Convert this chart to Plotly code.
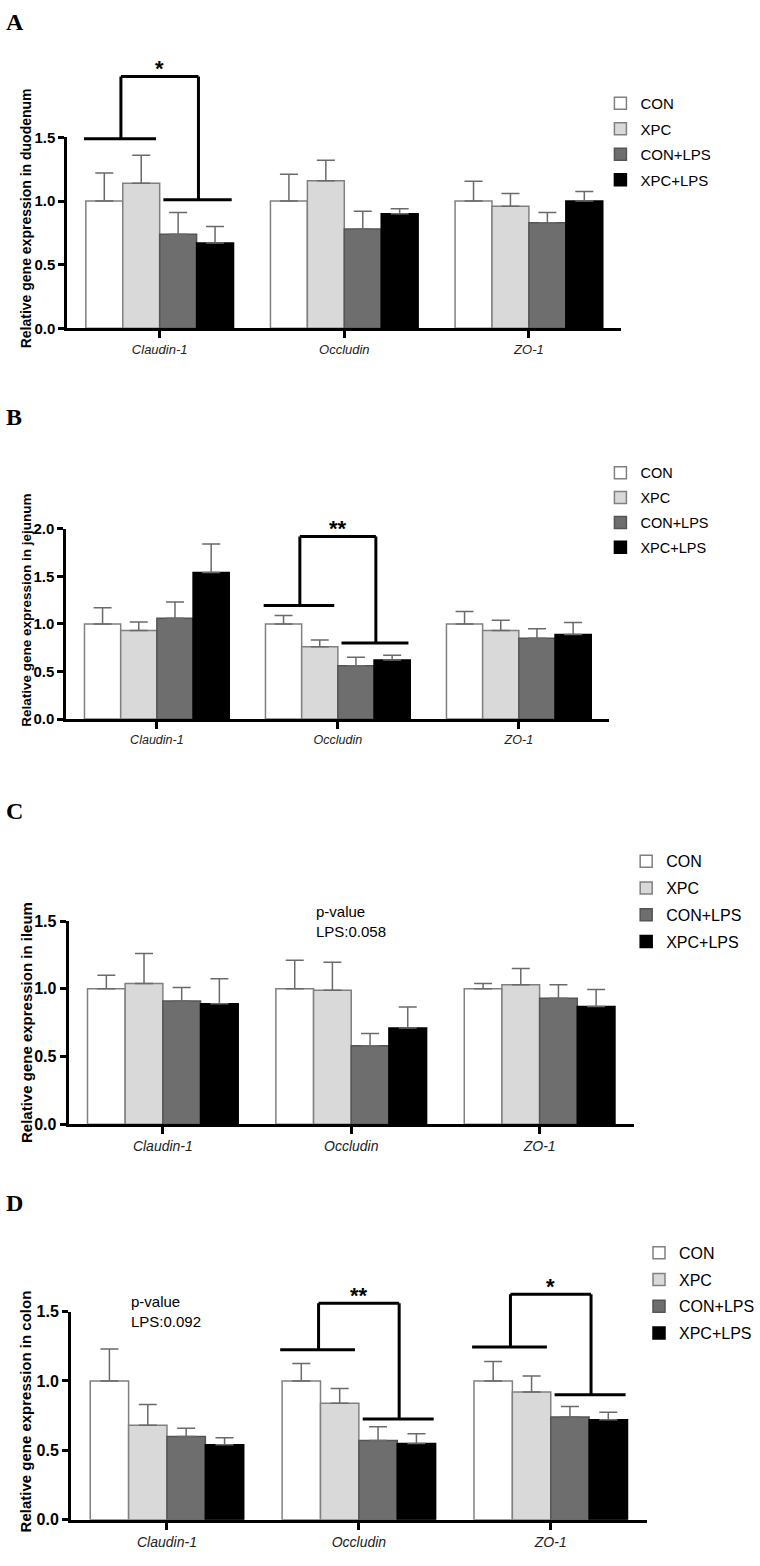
import plotly.graph_objects as go

W, H = 760, 1566

genes = ["Claudin-1", "Occludin", "ZO-1"]
groups = ["CON", "XPC", "CON+LPS", "XPC+LPS"]

# relative expression, rows = groups (CON, XPC, CON+LPS, XPC+LPS), cols = genes
duodenum_mean = [
    [1.00, 1.00, 1.00],
    [1.14, 1.16, 0.96],
    [0.74, 0.78, 0.83],
    [0.67, 0.90, 1.00],
]
duodenum_sem = [
    [0.22, 0.21, 0.155],
    [0.22, 0.16, 0.10],
    [0.17, 0.14, 0.08],
    [0.13, 0.04, 0.075],
]
jejunum_mean = [
    [1.00, 1.00, 1.00],
    [0.93, 0.76, 0.93],
    [1.06, 0.56, 0.85],
    [1.54, 0.62, 0.89],
]
jejunum_sem = [
    [0.17, 0.09, 0.13],
    [0.09, 0.07, 0.11],
    [0.17, 0.09, 0.10],
    [0.30, 0.05, 0.125],
]
ileum_mean = [
    [1.00, 1.00, 1.00],
    [1.04, 0.99, 1.03],
    [0.91, 0.58, 0.93],
    [0.89, 0.71, 0.87],
]
ileum_sem = [
    [0.10, 0.21, 0.04],
    [0.22, 0.205, 0.12],
    [0.10, 0.09, 0.10],
    [0.185, 0.155, 0.125],
]
colon_mean = [
    [1.00, 1.00, 1.00],
    [0.68, 0.84, 0.92],
    [0.60, 0.57, 0.74],
    [0.54, 0.55, 0.72],
]
colon_sem = [
    [0.23, 0.125, 0.14],
    [0.15, 0.105, 0.115],
    [0.06, 0.10, 0.075],
    [0.05, 0.07, 0.055],
]

# significance brackets: (gene index, left bar level, right bar level, top level, label)
duodenum_sig = [(0, 1.49, 1.01, 1.98, "*")]
jejunum_sig = [(1, 1.195, 0.80, 1.92, "**")]
ileum_sig = []
colon_sig = [(1, 1.225, 0.725, 1.56, "**"), (2, 1.245, 0.90, 1.625, "*")]

ileum_note = (1, "p-value<br>LPS:0.058")
colon_note = (0, "p-value<br>LPS:0.092")

fills = ["#ffffff", "#d9d9d9", "#6e6e6e", "#000000"]
edges = ["#808080", "#808080", "#555555", "#000000"]

SANS = "Arial, Liberation Sans, sans-serif"
SERIF = "Times New Roman, Liberation Serif, serif"

# pixel geometry of each panel (left, right, baseline y, px per unit, ...)
panels = [
    dict(letter="A", tissue="duodenum", mean=duodenum_mean, sem=duodenum_sem, sig=duodenum_sig, note=None,
         left=68, right=627, y0=323, ppu=128.7, ymax=2.25, top=1.5, ticks=[0, 0.5, 1.0, 1.5],
         letter_y=13, title_y=212, fs=14, tfs=15, leg_x=606, leg_y=79, gap=3),
    dict(letter="B", tissue="jejunum", mean=jejunum_mean, sem=jejunum_sem, sig=jejunum_sig, note=None,
         left=67, right=615, y0=718.3, ppu=96.2, ymax=2.3, top=2.0, ticks=[0, 0.5, 1.0, 1.5, 2.0],
         letter_y=413, title_y=608, fs=13.5, tfs=15, leg_x=606, leg_y=453, gap=3),
    dict(letter="C", tissue="ileum", mean=ileum_mean, sem=ileum_sem, sig=ileum_sig, note=ileum_note,
         left=69.3, right=639.7, y0=1128.3, ppu=137.1, ymax=1.8, top=1.5, ticks=[0, 0.5, 1.0, 1.5],
         letter_y=811, title_y=1025, fs=15, tfs=16, leg_x=632, leg_y=845, gap=3),
    dict(letter="D", tissue="colon", mean=colon_mean, sem=colon_sem, sig=colon_sig, note=colon_note,
         left=71.7, right=652.7, y0=1528.3, ppu=140.4, ymax=1.8, top=1.5, ticks=[0, 0.5, 1.0, 1.5],
         letter_y=1208, title_y=1419, fs=15, tfs=16, leg_x=645, leg_y=1241, gap=3),
]


def fx(px):
    return px / W


def fy(py):
    return 1 - py / H


fig = go.Figure()
shapes = []
annotations = []
layout = {}

for i, p in enumerate(panels):
    n = "" if i == 0 else str(i + 1)
    m = str(i + 5)  # invisible taller axis for brackets and notes
    xa, ya, yo, leg = "x" + n, "y" + n, "y" + m, "legend" + n
    fs = p["fs"]

    for g, name in enumerate(groups):
        fig.add_trace(go.Bar(
            x=genes, y=p["mean"][g], name=name,
            xaxis=xa, yaxis=ya, legend=leg, legendgroup=f"{i}-{name}",
            marker=dict(color=fills[g], line=dict(color=edges[g], width=1.5)),
            error_y=dict(type="data", symmetric=False, array=p["sem"][g], arrayminus=[0] * len(genes),
                         color="#6a6a6a", thickness=1.5, width=9),
        ))

    layout["xaxis" + n] = dict(
        domain=[fx(p["left"]), fx(p["right"])], anchor=ya, type="category",
        categoryorder="array", categoryarray=genes, range=[-0.5, 2.5],
        showline=True, linewidth=3, linecolor="black", showgrid=False, zeroline=False,
        ticks="outside", ticklen=7, tickwidth=3, tickcolor="black",
        tickfont=dict(family=SANS, size=fs - 1, color="#222", style="italic"),
    )
    layout["yaxis" + n] = dict(
        domain=[fy(p["y0"]), fy(p["y0"] - p["top"] * p["ppu"])], anchor=xa, range=[0, p["top"]],
        showline=True, linewidth=3, linecolor="black", showgrid=False, zeroline=False,
        tickvals=p["ticks"], ticktext=[f"{t:.1f}" for t in p["ticks"]],
        ticks="outside", ticklen=6, tickwidth=3, tickcolor="black",
        tickfont=dict(family=SANS, size=p["tfs"], color="black", weight="bold"),
    )
    layout["yaxis" + m] = dict(
        domain=[fy(p["y0"]), fy(p["y0"] - p["ymax"] * p["ppu"])], anchor=xa,
        range=[0, p["ymax"]], visible=False,
    )
    layout[leg] = dict(
        x=fx(p["leg_x"]), y=fy(p["leg_y"]), xanchor="left", yanchor="top",
        font=dict(family=SANS, size=fs + 1, color="black"), bgcolor="rgba(0,0,0,0)",
        traceorder="grouped", tracegroupgap=p["gap"],
    )

    for c, yl, yr, yt, lab in p["sig"]:
        for x0, x1, y0, y1 in [(c - 0.41, c - 0.02, yl, yl), (c + 0.02, c + 0.39, yr, yr),
                               (c - 0.21, c - 0.21, yl, yt), (c - 0.21, c + 0.21, yt, yt),
                               (c + 0.21, c + 0.21, yt, yr)]:
            shapes.append(dict(type="line", xref=xa, yref=yo, x0=x0, x1=x1, y0=y0, y1=y1,
                               line=dict(color="black", width=3)))
        annotations.append(dict(x=c, y=yt, xref=xa, yref=yo, text=lab, showarrow=False,
                                yanchor="bottom", yshift=-7,
                                font=dict(family=SANS, size=22, color="black", weight="bold")))

    if p["note"]:
        c, txt = p["note"]
        annotations.append(dict(x=c - 0.2, y=1.5, xref=xa, yref=yo, text=txt, showarrow=False,
                                xanchor="left", yanchor="middle", align="left",
                                font=dict(family=SANS, size=15, color="black")))

    annotations.append(dict(x=fx(4), y=fy(p["letter_y"]), xref="paper", yref="paper",
                            text=p["letter"], showarrow=False, xanchor="left", yanchor="middle",
                            font=dict(family=SERIF, size=24, color="black", weight="bold")))
    annotations.append(dict(x=fx(26), y=fy(p["title_y"]), xref="paper", yref="paper",
                            text="Relative gene expression in " + p["tissue"], textangle=-90,
                            showarrow=False, xanchor="center", yanchor="middle",
                            font=dict(family=SANS, size=fs, color="black", weight="bold")))

fig.update_layout(
    width=W, height=H, margin=dict(l=0, r=0, t=0, b=0),
    paper_bgcolor="white", plot_bgcolor="rgba(0,0,0,0)",
    barmode="group", bargap=0.2, bargroupgap=0,
    shapes=shapes, annotations=annotations,
    **layout,
)

# drop the default page margin so the figure sits at the window origin
fig.write_html("out.html", config={"displayModeBar": False},
               post_script="document.body.style.margin='0px';")
